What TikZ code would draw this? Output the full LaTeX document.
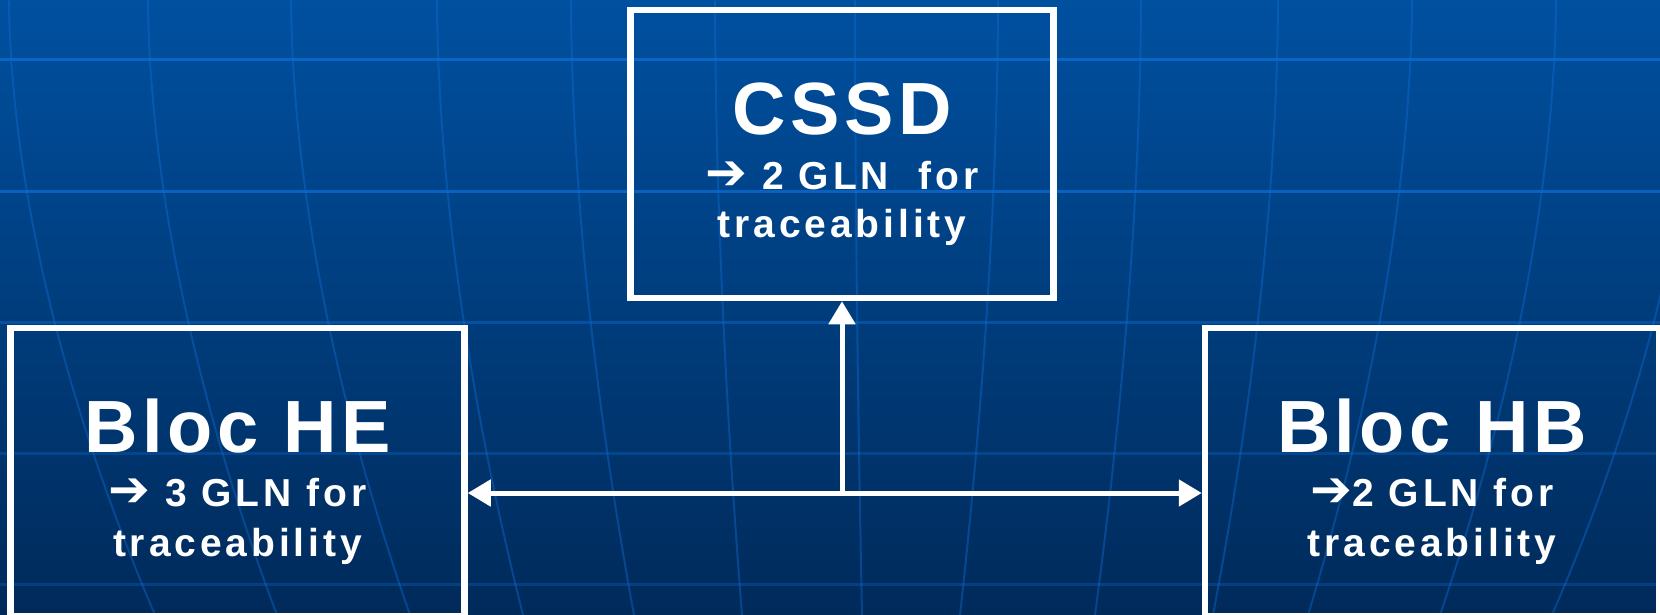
\documentclass[tikz,border=0pt]{standalone}
\usepackage{fontspec}
\setmainfont{Liberation Sans}
\newfontfamily\headfont{Liberation Sans}[LetterSpace=6]
\newfontfamily\notefont{Liberation Sans}[LetterSpace=10]
\newfontfamily\symfont{DejaVu Sans}
\usetikzlibrary{arrows.meta}
\definecolor{bgtop}{RGB}{0,80,160}
\definecolor{bgbot}{RGB}{0,42,90}
\definecolor{gridblue}{RGB}{15,110,215}
\newcommand{\bigline}{\headfont\bfseries\fontsize{74}{80}\selectfont}
\newcommand{\noteline}{\notefont\bfseries\fontsize{39}{48}\selectfont}
\newcommand{\glnarrow}{{\symfont\bfseries\fontsize{50}{48}\selectfont ➔}}

\begin{document}
\begin{tikzpicture}[x=1pt, y=-1pt,
  blocbox/.style={draw=white, line width=6.5pt, minimum width=#1, minimum height=288pt, inner sep=0pt, align=center, text=white, font=\noteline},
  blocbox/.default=454pt,
  link/.style={draw=white, line width=5pt, -{Triangle[length=23pt,width=26pt]}}]
\useasboundingbox (0,0) rectangle (1660,615);
\fill [top color=bgtop, bottom color=bgbot] (0,0) rectangle (1660,615);
\begin{scope}
\clip (0,0) rectangle (1660,615);
\foreach \y/\o in {60/0.75,191/0.7,322/0.4,453/0.3,584/0.3} {
  \draw [gridblue, line width=3pt, opacity=\o] (0,\y) -- (1660,\y);
}
\foreach \a/\b in {9/155,148/277,291/410,437/523,571/634,715/742,855/862,998/960,1141/1095,1278/1213,1412/1308,1556/1440,1700/1552} {
  \draw [gridblue, line width=2pt, opacity=0.4] plot [domain=0.5:620, samples=30, variable=\t] ({\a+(\b-\a)*pow(\t/615,1.8)}, \t);
}
\end{scope}
\node [blocbox=423pt] (cssd) at (842,154) {\rule{0pt}{73pt}\bigline CSSD\\[7pt]\glnarrow\ 2 GLN\ \ for\\traceability};
\node [blocbox] (bloche) at (237.5,471.75) {\rule{0pt}{74.5pt}\bigline Bloc HE\\[6pt]\glnarrow\ 3 GLN for\\[2pt]traceability};
\node [blocbox] (blochb) at (1432,471.75) {\rule{0pt}{74.5pt}\bigline Bloc HB\\[6pt]\glnarrow2 GLN for\\[2pt]traceability};
\coordinate (hub) at (cssd.south |- 0,493);
\draw [link] (hub) -- (cssd.south);
\draw [link, {Triangle[length=23pt,width=26pt]}-{Triangle[length=23pt,width=26pt]}] (bloche.east |- hub) -- (blochb.west |- hub);
\end{tikzpicture}
\end{document}
